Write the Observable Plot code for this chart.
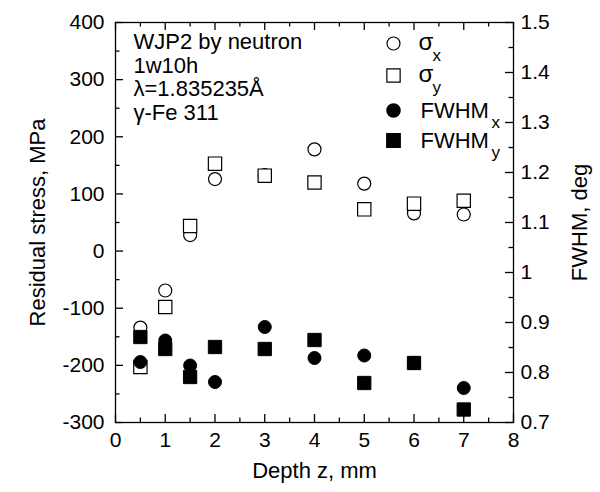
<!DOCTYPE html>
<html>
<head>
<meta charset="utf-8">
<script src="https://cdn.jsdelivr.net/npm/d3@7"></script>
<script src="https://cdn.jsdelivr.net/npm/@observablehq/plot@0.6"></script>
<style>
  html, body { margin: 0; padding: 0; background: #fff; }
  #chart { width: 600px; height: 492px; }
</style>
</head>
<body>
<div id="chart"></div>
<script>
// ---- data ----
const depth   = [0.5, 1, 1.5, 2, 3, 4, 5, 6, 7];
const sigmaX  = [-134, -69, 28, 126, 133, 178, 118, 66, 64];      // MPa
const sigmaY  = [-203, -98, 44, 153, 132, 120, 73, 83, 88];       // MPa
const fwhmX   = [0.821, 0.864, 0.814, 0.781, 0.891, 0.829, 0.834, 0.819, 0.769]; // deg
const fwhmY   = [0.871, 0.847, 0.791, 0.851, 0.847, 0.865, 0.779, 0.819, 0.726]; // deg

const xMajor = [0, 1, 2, 3, 4, 5, 6, 7, 8];
const xMinor = [0.5, 1.5, 2.5, 3.5, 4.5, 5.5, 6.5, 7.5];
const yMajor = [-300, -200, -100, 0, 100, 200, 300, 400];
const yMinor = [-250, -150, -50, 50, 150, 250, 350];
const fMajor = [0.7, 0.8, 0.9, 1.0, 1.1, 1.2, 1.3, 1.4, 1.5];
const fMinor = [0.75, 0.85, 0.95, 1.05, 1.15, 1.25, 1.35, 1.45];

const infoLines = ["WJP2 by neutron", "1w10h", "λ=1.835235Å", "γ-Fe 311"];
const legendMain = ["σ", "σ", "FWHM", "FWHM"];
const legendSub = ["x", "y", "x", "y"];

// secondary (FWHM) axis mapped onto the stress axis
const xDomain = [0, 8];
const sDomain = [-300, 400];
const fDomain = [0.7, 1.5];
const f2s = f => sDomain[0] + (f - fDomain[0]) / (fDomain[1] - fDomain[0]) * (sDomain[1] - sDomain[0]);
const s2f = s => fDomain[0] + (s - sDomain[0]) / (sDomain[1] - sDomain[0]) * (fDomain[1] - fDomain[0]);

const rows = depth.map((d, i) => ({d, sx: sigmaX[i], sy: sigmaY[i], fx: f2s(fwhmX[i]), fy: f2s(fwhmY[i])}));

const W = 600, H = 492, mL = 115, mR = 87, mT = 22, mB = 70;
const fw = W - mL - mR, fh = H - mT - mB;
// tick lengths in pixels, converted to data units for the rules
const majorPx = 8, minorPx = 4.5;
const yPer = (sDomain[1] - sDomain[0]) / fh;
const xPer = (xDomain[1] - xDomain[0]) / fw;
const font = "'Liberation Sans', Arial, Helvetica, sans-serif";

const tk = {strokeWidth: 1.3, stroke: "black"};
const chart = Plot.plot({
  width: W,
  height: H,
  marginLeft: mL,
  marginRight: mR,
  marginTop: mT,
  marginBottom: mB,
  style: {fontFamily: font, fontSize: "21px", background: "white", color: "black", overflow: "visible"},
  x: {domain: xDomain, label: null},
  y: {domain: sDomain, label: null},
  marks: [
    // inward ticks (bottom, top, left, right)
    Plot.ruleX(xMajor, {x: d => d, y1: sDomain[0], y2: sDomain[0] + majorPx * yPer, ...tk}),
    Plot.ruleX(xMinor, {x: d => d, y1: sDomain[0], y2: sDomain[0] + minorPx * yPer, ...tk}),
    Plot.ruleX(xMajor, {x: d => d, y1: sDomain[1], y2: sDomain[1] - majorPx * yPer, ...tk}),
    Plot.ruleX(xMinor, {x: d => d, y1: sDomain[1], y2: sDomain[1] - minorPx * yPer, ...tk}),
    Plot.ruleY(yMajor, {y: d => d, x1: xDomain[0], x2: xDomain[0] + majorPx * xPer, ...tk}),
    Plot.ruleY(yMinor, {y: d => d, x1: xDomain[0], x2: xDomain[0] + minorPx * xPer, ...tk}),
    Plot.ruleY(fMajor.map(f2s), {y: d => d, x1: xDomain[1], x2: xDomain[1] - majorPx * xPer, ...tk}),
    Plot.ruleY(fMinor.map(f2s), {y: d => d, x1: xDomain[1], x2: xDomain[1] - minorPx * xPer, ...tk}),
    // tick labels
    Plot.axisX(xMajor, {anchor: "bottom", tickSize: 0, tickPadding: 10, tickFormat: d => String(d)}),
    Plot.axisY(yMajor, {anchor: "left", tickSize: 0, tickPadding: 11, tickFormat: d => String(d)}),
    Plot.axisY(fMajor.map(f2s), {anchor: "right", tickSize: 0, tickPadding: 7, tickFormat: s => String(+s2f(s).toFixed(2))}),
    Plot.frame({strokeWidth: 1.3}),
    // axis titles
    Plot.text(["Depth z, mm"], {frameAnchor: "bottom", dy: 48, fontSize: 22, lineAnchor: "middle"}),
    Plot.text(["Residual stress, MPa"], {frameAnchor: "left", textAnchor: "middle", dx: -78, rotate: -90, fontSize: 22, lineAnchor: "middle"}),
    Plot.text(["FWHM, deg"], {frameAnchor: "right", textAnchor: "middle", dx: 66, rotate: -90, fontSize: 22, lineAnchor: "middle"}),
    // info text
    Plot.text([infoLines.join("\n")], {frameAnchor: "top-left", textAnchor: "start", lineAnchor: "top", dx: 18, dy: 10, fontSize: 22, lineHeight: 1.07}),
    // data
    Plot.dot(rows, {x: "d", y: "sx", symbol: "circle", r: 6.5, stroke: "black", fill: "white", strokeWidth: 1.2}),
    Plot.dot(rows, {x: "d", y: "sy", symbol: "square", r: 7.5, stroke: "black", fill: "white", strokeWidth: 1.2}),
    Plot.dot(rows, {x: "d", y: "fx", symbol: "circle", r: 6.5, stroke: "black", fill: "black", strokeWidth: 1}),
    Plot.dot(rows, {x: "d", y: "fy", symbol: "square", r: 7.5, stroke: "black", fill: "black", strokeWidth: 1}),
    // legend symbols
    Plot.dot([0], {frameAnchor: "top-right", dx: -120, dy: 21, symbol: "circle", r: 6.5, stroke: "black", fill: "white", strokeWidth: 1.2}),
    Plot.dot([0], {frameAnchor: "top-right", dx: -120, dy: 53, symbol: "square", r: 7.5, stroke: "black", fill: "white", strokeWidth: 1.2}),
    Plot.dot([0], {frameAnchor: "top-right", dx: -120, dy: 88, symbol: "circle", r: 6.5, stroke: "black", fill: "black"}),
    Plot.dot([0], {frameAnchor: "top-right", dx: -120, dy: 118, symbol: "square", r: 7.5, stroke: "black", fill: "black"}),
    // legend labels
    Plot.text([legendMain[0]], {frameAnchor: "top-right", textAnchor: "start", lineAnchor: "middle", dx: -95, dy: 20, fontSize: 24}),
    Plot.text([legendSub[0]], {frameAnchor: "top-right", textAnchor: "start", lineAnchor: "middle", dx: -81, dy: 33, fontSize: 17}),
    Plot.text([legendMain[1]], {frameAnchor: "top-right", textAnchor: "start", lineAnchor: "middle", dx: -95, dy: 52, fontSize: 24}),
    Plot.text([legendSub[1]], {frameAnchor: "top-right", textAnchor: "start", lineAnchor: "middle", dx: -81, dy: 65, fontSize: 17}),
    Plot.text([legendMain[2]], {frameAnchor: "top-right", textAnchor: "start", lineAnchor: "middle", dx: -93, dy: 88, fontSize: 22}),
    Plot.text([legendSub[2]], {frameAnchor: "top-right", textAnchor: "start", lineAnchor: "middle", dx: -22, dy: 100, fontSize: 17}),
    Plot.text([legendMain[3]], {frameAnchor: "top-right", textAnchor: "start", lineAnchor: "middle", dx: -93, dy: 118, fontSize: 22}),
    Plot.text([legendSub[3]], {frameAnchor: "top-right", textAnchor: "start", lineAnchor: "middle", dx: -22, dy: 130, fontSize: 17})
  ]
});
document.getElementById("chart").appendChild(chart);
</script>
</body>
</html>
